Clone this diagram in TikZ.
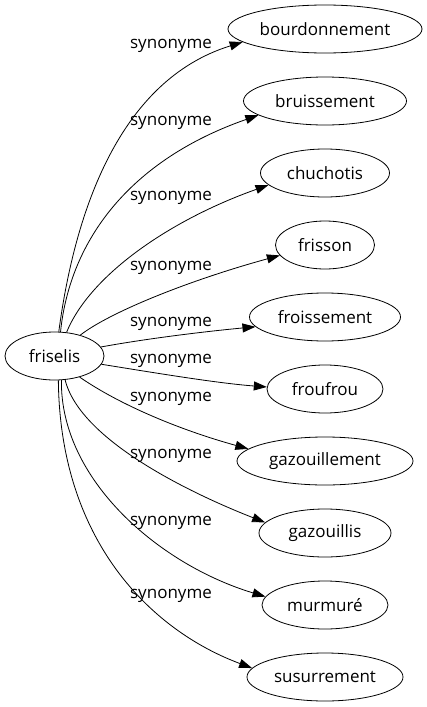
\documentclass[tikz,border=0pt]{standalone}
\usepackage{fontspec}
\setmainfont{Open Sans}
\usetikzlibrary{shapes.geometric, arrows.meta}

\begin{document}
\begin{tikzpicture}[x=1pt, y=-1pt,
  word/.style={draw, ellipse, inner sep=0pt, minimum height=48pt, line width=0.8pt, font=\fontsize{17}{20}\selectfont},
  lbl/.style={inner sep=0pt, font=\fontsize{17}{20}\selectfont},
  syn/.style={line width=0.8pt, -{Triangle[length=13pt, width=9pt]}}]

\useasboundingbox (0,0) rectangle (426,707);

\node[word, minimum width=99pt] (fris) at (54.5,356) {friselis};

\foreach \n/\t/\w/\k in {bou/bourdonnement/194/0, bru/bruissement/163/1, chu/chuchotis/129/2, frs/frisson/99/3, froi/froissement/151/4, frou/froufrou/116/5, gzm/gazouillement/176/6, gzs/gazouillis/132/7, mur/murmuré/126/8, sus/susurrement/156/9}
  \node[word, minimum width=\w pt] (\n) at (325, 29+72*\k) {\t};

\foreach \n/\a/\b/\ax/\ay/\bx/\by in {bou/80/189/75/210/120/80, bru/76/192/70/240/130/160, chu/63/192/90/275/170/220, frs/39/193/110/312/190/280, froi/11/188/150/338/210/331, frou/-10/178/150/372/215/383, gzm/-40/171/120/405/180/430, gzs/-66/170/80/440/190/493, mur/-74/172/60/480/160/565, sus/-81/173/60/540/150/630}
  \draw[syn] (fris.\a) .. controls (\ax,\ay) and (\bx,\by) .. (\n.\b);

\foreach \y [count=\i] in {46,123,198,268,324,361,399,456,523,596}
  \node[lbl] (lab\i) at (171,\y) {synonyme};

\end{tikzpicture}
\end{document}
